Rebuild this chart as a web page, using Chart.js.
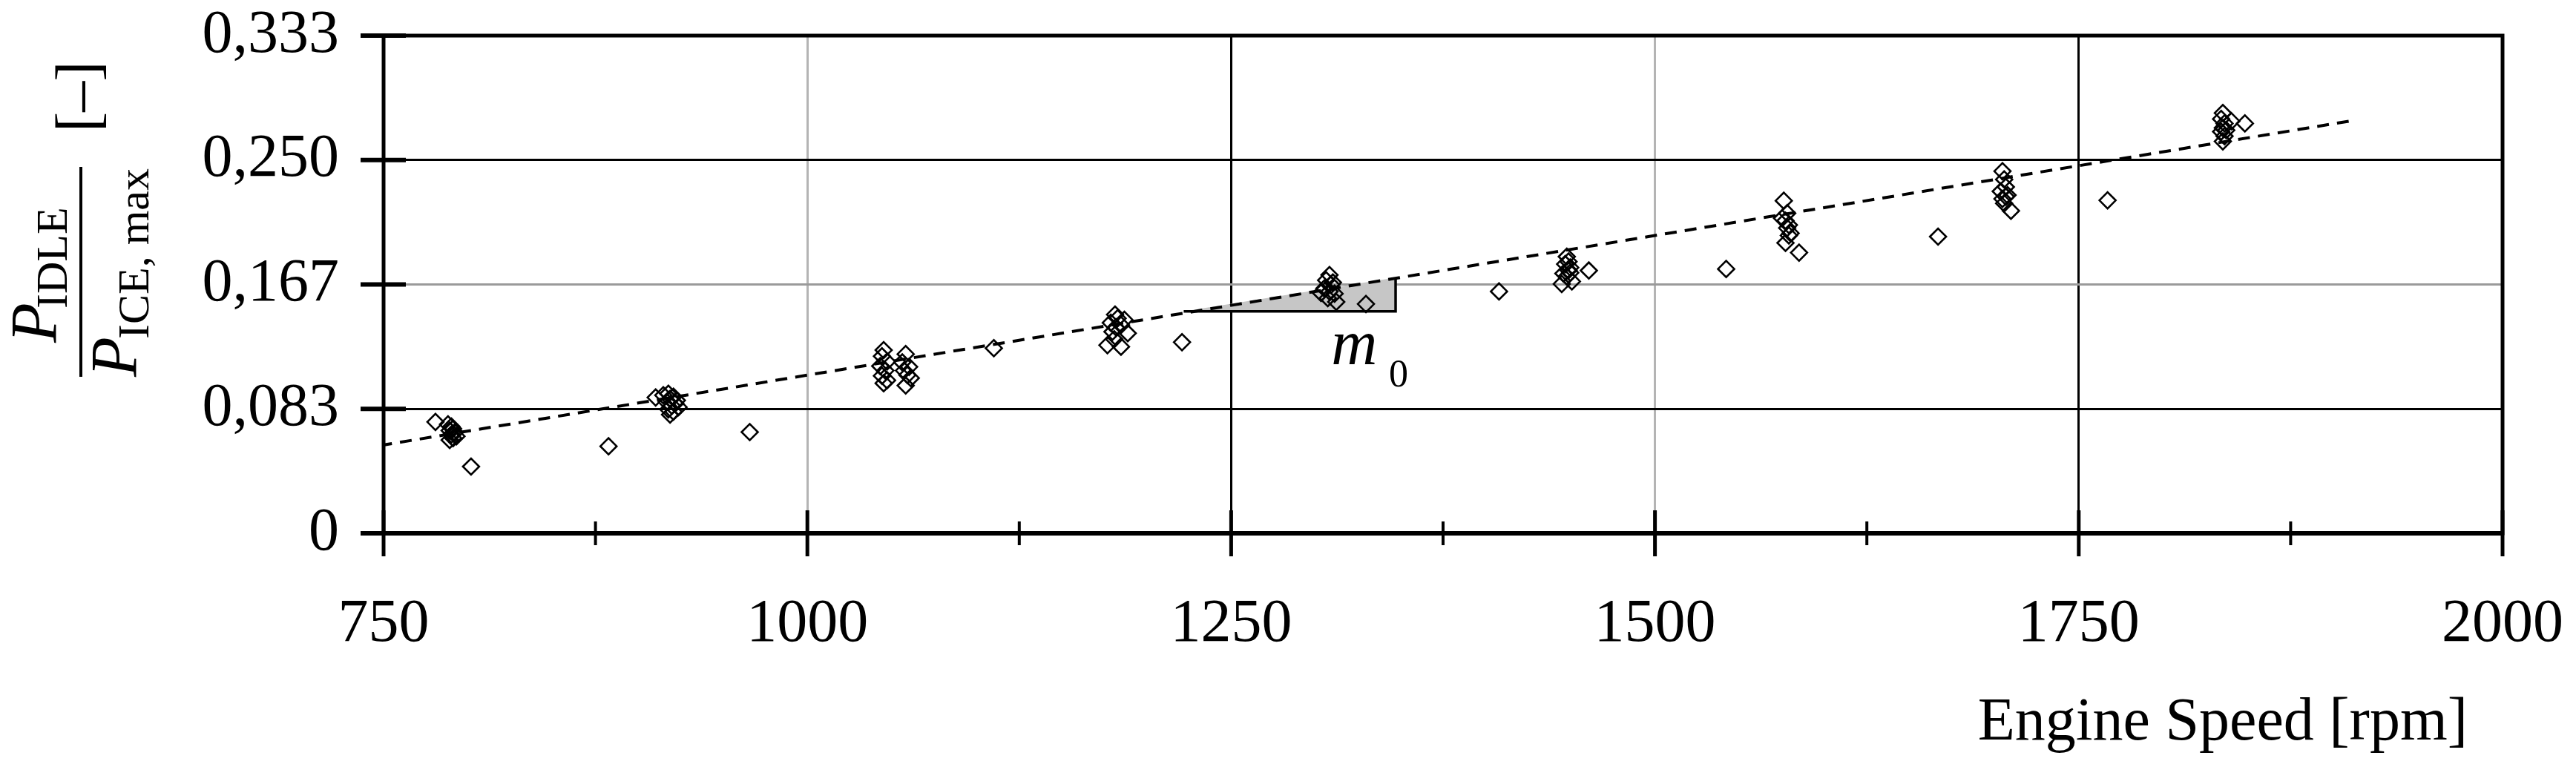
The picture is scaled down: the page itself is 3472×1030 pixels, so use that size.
<!DOCTYPE html>
<html>
<head>
<meta charset="utf-8">
<script src="https://cdn.jsdelivr.net/npm/chart.js@4.4.1/dist/chart.umd.min.js"></script>
<style>
html, body { margin: 0; padding: 0; background: #fff; overflow: hidden; }
#wrap { width: 3472px; height: 1030px; }
canvas { display: block; }
</style>
</head>
<body>
<div id="wrap"><canvas id="canvas" width="3472" height="1030"></canvas></div>
<script>
// measured points: engine speed [rpm] and P_IDLE / P_ICE,max [-]
var speed = [
    780.6, 788, 790, 791, 789, 792, 790, 793, 791, 789,
    801.6, 882.7,
    910.5, 915, 918, 921, 919, 923, 917, 922, 920, 924, 918, 921, 919,
    966,
    1045, 1044, 1047, 1043, 1046, 1044, 1047, 1045,
    1058, 1056, 1060, 1057, 1059, 1061, 1058,
    1110,
    1181.5, 1187, 1183, 1179, 1185, 1182, 1189, 1181, 1177, 1185, 1180,
    1221,
    1308, 1306, 1309, 1305, 1311, 1307, 1312, 1303, 1308, 1310,
    1329.5, 1408,
    1448, 1449, 1447, 1450, 1449, 1446, 1448, 1451, 1445, 1450,
    1461, 1542,
    1576, 1578, 1575, 1577, 1579, 1578, 1580, 1579, 1577,
    1585, 1667,
    1705, 1706, 1707, 1704, 1708, 1705, 1706, 1707, 1710,
    1767,
    1835, 1834, 1836, 1835, 1834, 1836, 1835, 1837, 1840, 1848
];
var ratio = [
    0.0746, 0.0730, 0.0715, 0.0700, 0.0688, 0.0675, 0.0662, 0.0650, 0.0638, 0.0625,
    0.0447, 0.0583,
    0.0910, 0.0925, 0.0935, 0.0915, 0.0900, 0.0890, 0.0880, 0.0870, 0.0855, 0.0845, 0.0830, 0.0815, 0.0795,
    0.0678,
    0.1227, 0.1186, 0.1150, 0.1120, 0.1090, 0.1055, 0.1025, 0.1005,
    0.1200, 0.1145, 0.1115, 0.1090, 0.1060, 0.1040, 0.0990,
    0.1240,
    0.1465, 0.1430, 0.1440, 0.1410, 0.1395, 0.1380, 0.1340, 0.1300, 0.1260, 0.1250, 0.1350,
    0.1280,
    0.1730, 0.1695, 0.1665, 0.1640, 0.1605, 0.1575, 0.1550, 0.1610, 0.1620, 0.1680,
    0.1536, 0.1620,
    0.1853, 0.1820, 0.1803, 0.1780, 0.1762, 0.1740, 0.1720, 0.1687, 0.1670, 0.1745,
    0.1760, 0.1770,
    0.2227, 0.2144, 0.2110, 0.2094, 0.2065, 0.2045, 0.2010, 0.1995, 0.1945,
    0.1880, 0.1987,
    0.2425, 0.2370, 0.2320, 0.2290, 0.2265, 0.2240, 0.2210, 0.2255, 0.2160,
    0.2230,
    0.2815, 0.2775, 0.2745, 0.2715, 0.2690, 0.2660, 0.2625, 0.2700, 0.2760, 0.2745
];

// fitted line and slope wedge
var trendSpeed = [748, 1912];
var trendRatio = [0.0588, 0.2765];
var wedgeSpeed = [1222, 1347, 1347];
var wedgeRatio = [0.1486, 0.1486, 0.1712];

// axes
var yTickVals = [0, 1 / 12, 1 / 6, 1 / 4, 1 / 3];
var yTickLabels = ['0', '0,083', '0,167', '0,250', '0,333'];
var xMajor = [750, 1000, 1250, 1500, 1750, 2000];
var xMinor = [875, 1125, 1375, 1625, 1875];

// m0 label anchor (data coords)
var mLabel = { x: 1309, y: 0.1133 };
var mSubLabel = { x: 1343, y: 0.0984 };

var SERIF = '"Liberation Serif", "DejaVu Serif", serif';

function toXY(xs, ys) {
    var out = [];
    for (var i = 0; i < xs.length; i++) out.push({ x: xs[i], y: ys[i] });
    return out;
}

function rotText(ctx, txt, font, x, y) {
    ctx.save();
    ctx.translate(x, y);
    ctx.rotate(-Math.PI / 2);
    ctx.font = font;
    ctx.textAlign = 'left';
    ctx.textBaseline = 'alphabetic';
    ctx.fillText(txt, 0, 0);
    ctx.restore();
}

// scales add label padding to the chart area; the frame here is fixed instead
function noPad(s) {
    s.paddingTop = 0;
    s.paddingBottom = 0;
    s.paddingLeft = 0;
    s.paddingRight = 0;
}

var decorPlugin = {
    id: 'decor',
    afterDraw: function(chart) {
        var ctx = chart.ctx;
        var a = chart.chartArea;
        var xs = chart.scales.x, ys = chart.scales.y;
        ctx.save();
        ctx.strokeStyle = '#000';
        ctx.fillStyle = '#000';
        ctx.lineCap = 'butt';

        // frame
        ctx.lineWidth = 5;
        ctx.strokeRect(a.left, a.top, a.right - a.left, a.bottom - a.top);
        ctx.lineWidth = 6;
        ctx.beginPath();
        ctx.moveTo(a.left, a.bottom);
        ctx.lineTo(a.right, a.bottom);
        ctx.stroke();

        // y ticks crossing the axis
        ctx.lineWidth = 6;
        yTickVals.forEach(function(v) {
            var py = ys.getPixelForValue(v);
            ctx.beginPath();
            ctx.moveTo(a.left - 31, py);
            ctx.lineTo(a.left + 30, py);
            ctx.stroke();
        });

        // x ticks crossing the axis
        ctx.lineWidth = 5;
        xMajor.forEach(function(v) {
            var px = xs.getPixelForValue(v);
            ctx.beginPath();
            ctx.moveTo(px, a.bottom - 31);
            ctx.lineTo(px, a.bottom + 31);
            ctx.stroke();
        });
        ctx.lineWidth = 4;
        xMinor.forEach(function(v) {
            var px = xs.getPixelForValue(v);
            ctx.beginPath();
            ctx.moveTo(px, a.bottom - 16);
            ctx.lineTo(px, a.bottom + 16);
            ctx.stroke();
        });

        // m0
        ctx.textAlign = 'left';
        ctx.textBaseline = 'alphabetic';
        ctx.font = 'italic 86px ' + SERIF;
        ctx.fillText('m', xs.getPixelForValue(mLabel.x), ys.getPixelForValue(mLabel.y));
        ctx.font = '52px ' + SERIF;
        ctx.fillText('0', xs.getPixelForValue(mSubLabel.x), ys.getPixelForValue(mSubLabel.y));

        // x title
        ctx.textAlign = 'right';
        ctx.font = '82px ' + SERIF;
        ctx.fillText('Engine Speed [rpm]', 3326, 997);

        // y title: P_IDLE / P_ICE,max [-]
        rotText(ctx, 'P', 'italic 88px ' + SERIF, 75, 462);
        rotText(ctx, 'IDLE', '60px ' + SERIF, 90, 416);
        ctx.fillRect(107, 225, 4, 283);
        rotText(ctx, 'P', 'italic 88px ' + SERIF, 183, 508);
        rotText(ctx, 'ICE, max', '60px ' + SERIF, 200, 457);
        rotText(ctx, '[\u2013]', '82px ' + SERIF, 132, 178);

        ctx.restore();
    }
};

var ctx = document.getElementById('canvas').getContext('2d');
var myChart = new Chart(ctx, {
    type: 'scatter',
    data: {
        datasets: [
            {
                label: 'measurements',
                data: toXY(speed, ratio),
                pointStyle: 'rectRot',
                pointRadius: 11,
                borderWidth: 2.6,
                borderColor: '#000',
                backgroundColor: 'rgba(0,0,0,0)',
                order: 1
            },
            {
                label: 'trend',
                data: toXY(trendSpeed, trendRatio),
                showLine: true,
                borderColor: '#000',
                borderWidth: 4,
                borderDash: [16, 11],
                pointRadius: 0,
                fill: false,
                order: 2
            },
            {
                label: 'wedge',
                data: toXY(wedgeSpeed, wedgeRatio),
                showLine: true,
                borderColor: '#000',
                borderWidth: 3.5,
                backgroundColor: '#c6c6c6',
                pointRadius: 0,
                fill: 'shape',
                order: 3
            }
        ]
    },
    options: {
        responsive: false,
        devicePixelRatio: 1,
        animation: false,
        layout: {
            autoPadding: false,
            padding: { top: 48, right: 99, left: 0, bottom: 0 }
        },
        plugins: {
            legend: { display: false },
            tooltip: { enabled: false }
        },
        scales: {
            x: {
                type: 'linear',
                min: 750,
                max: 2000,
                afterBuildTicks: function(s) {
                    s.ticks = xMajor.map(function(v) { return { value: v }; });
                },
                afterFit: function(s) { s.height = 311; noPad(s); },
                border: { display: false },
                grid: {
                    drawTicks: false,
                    lineWidth: 3,
                    color: function(c) {
                        var v = c.tick ? c.tick.value : null;
                        if (v === 1250 || v === 1750) return '#000';
                        if (v === 1000 || v === 1500) return '#b4b4b4';
                        return 'rgba(0,0,0,0)';
                    }
                },
                ticks: {
                    autoSkip: false,
                    maxRotation: 0,
                    padding: 74,
                    color: '#000',
                    font: { family: SERIF, size: 82 },
                    callback: function(v) { return String(v); }
                }
            },
            y: {
                min: 0,
                max: 1 / 3,
                afterBuildTicks: function(s) {
                    s.ticks = yTickVals.map(function(v) { return { value: v }; });
                },
                afterFit: function(s) { s.width = 517; noPad(s); },
                border: { display: false },
                grid: {
                    drawTicks: false,
                    lineWidth: 3,
                    color: function(c) {
                        var i = c.index;
                        if (i === 1 || i === 3) return '#000';
                        if (i === 2) return '#9a9a9a';
                        return 'rgba(0,0,0,0)';
                    }
                },
                ticks: {
                    padding: 60,
                    color: '#000',
                    font: { family: SERIF, size: 82 },
                    callback: function(v, i) { return yTickLabels[i]; }
                }
            }
        }
    },
    plugins: [decorPlugin]
});
</script>
</body>
</html>
